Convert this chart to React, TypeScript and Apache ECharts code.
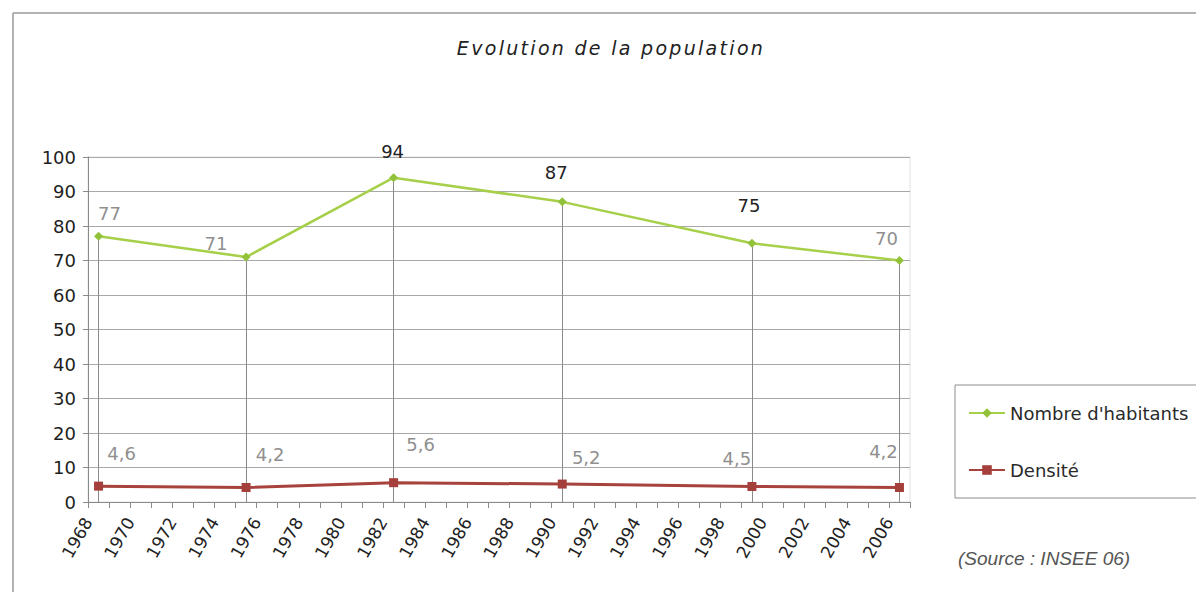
import React, { useEffect, useRef } from "react";
import * as echarts from "echarts";

// Census years and values
const censusYears = [1968, 1975, 1982, 1990, 1999, 2006];
const habitants = [77, 71, 94, 87, 75, 70];
const densite = [4.6, 4.2, 5.6, 5.2, 4.5, 4.2];

// Year labels shown under the time axis (one tick per year, a label every two)
const yearLabels = [
  1968, 1970, 1972, 1974, 1976, 1978, 1980, 1982, 1984, 1986,
  1988, 1990, 1992, 1994, 1996, 1998, 2000, 2002, 2004, 2006,
];

// Hand-placed value labels: offset of the label centre from its point, in px
const habitantsLabelShift: [number, number][] = [
  [11, -23], [-30, -14], [-1, -26], [-6, -29], [-3, -38], [-13, -22],
];
const habitantsLabelInk = ["#8f8f8f", "#8f8f8f", "#222222", "#222222", "#222222", "#8f8f8f"];
const densiteLabelShift: [number, number][] = [
  [23, -33], [24, -33], [27, -38], [24, -27], [-15, -28], [-16, -36],
];

const FONT = "DejaVu Sans";
const GRID_LEFT = 88;
const GRID_TOP = 157;
const GRID_W = 822;
const GRID_H = 345;

const fmtComma = (v: number) => String(v).replace(".", ",");

// The title is set with wide tracking; only the italic DejaVu text is affected
const titleTracking = `
  .evo-chart text[style*="italic"][style*="DejaVu"],
  .evo-chart text[font-style="italic"][font-family*="DejaVu"] {
    letter-spacing: 2.3px;
  }
`;

export default function App() {
  const ref = useRef<HTMLDivElement>(null);

  useEffect(() => {
    if (!ref.current) return;
    const chart = echarts.init(ref.current, undefined, { renderer: "svg" });

    const habitantsData = censusYears.map((yr, i) => ({
      value: [yr, habitants[i]],
      label: {
        offset: habitantsLabelShift[i],
        color: habitantsLabelInk[i],
      },
    }));
    const densiteData = censusYears.map((yr, i) => ({
      value: [yr, densite[i]],
      label: { offset: densiteLabelShift[i] },
    }));

    chart.setOption({
      animation: false,
      backgroundColor: "#ffffff",
      textStyle: { fontFamily: FONT },
      grid: {
        left: GRID_LEFT,
        top: GRID_TOP,
        width: GRID_W,
        height: GRID_H,
        show: true,
        borderColor: "#e2e2e2",
        borderWidth: 1,
      },
      xAxis: [
        {
          type: "value",
          min: 1968,
          max: 2007,
          interval: 1,
          axisLine: { show: true, lineStyle: { color: "#8a8a8a", width: 1 } },
          axisTick: { show: true, length: 6, lineStyle: { color: "#8a8a8a" } },
          splitLine: { show: false },
          axisLabel: {
            rotate: 60,
            margin: 17,
            fontFamily: FONT,
            fontSize: 17,
            color: "#222222",
            showMinLabel: true,
            showMaxLabel: true,
            formatter: (v: number) => (yearLabels.includes(v) ? String(v) : ""),
          },
        },
        {
          // Each census year sits in the middle of its one-year band
          type: "value",
          min: 1967.5,
          max: 2006.5,
          show: false,
        },
      ],
      yAxis: {
        type: "value",
        min: 0,
        max: 100,
        interval: 10,
        axisLine: { show: true, lineStyle: { color: "#8a8a8a", width: 1 } },
        axisTick: { show: true, length: 5, lineStyle: { color: "#8a8a8a" } },
        splitLine: { show: true, lineStyle: { color: "#a8a8a8", width: 1 } },
        axisLabel: {
          margin: 12,
          fontFamily: FONT,
          fontSize: 18,
          color: "#1e1e1e",
        },
      },
      legend: {
        orient: "vertical",
        left: 955,
        top: 385,
        padding: [19, 40, 19, 13],
        itemGap: 39,
        itemWidth: 36,
        itemHeight: 12,
        borderColor: "#8c8c8c",
        borderWidth: 1,
        textStyle: { fontFamily: FONT, fontSize: 18, color: "#2a2a2a" },
        data: ["Nombre d'habitants", "Densité"],
      },
      series: [
        {
          name: "Nombre d'habitants",
          type: "line",
          xAxisIndex: 1,
          data: habitantsData,
          symbol: "diamond",
          symbolSize: 9,
          itemStyle: { color: "#92c23a" },
          lineStyle: { color: "#a6d04a", width: 2.5 },
          z: 4,
          label: {
            show: true,
            position: "inside",
            fontFamily: FONT,
            fontSize: 18,
            formatter: (p: any) => fmtComma(p.value[1]),
          },
          markLine: {
            silent: true,
            symbol: "none",
            label: { show: false },
            lineStyle: { color: "#8a8a8a", width: 1, type: "solid" },
            data: censusYears.map((yr, i) => [
              { coord: [yr, habitants[i]] },
              { coord: [yr, 0] },
            ]),
            z: 1,
          },
        },
        {
          name: "Densité",
          type: "line",
          xAxisIndex: 1,
          data: densiteData,
          symbol: "rect",
          symbolSize: 9,
          itemStyle: { color: "#a53f3b" },
          lineStyle: { color: "#a8423d", width: 3 },
          z: 5,
          label: {
            show: true,
            position: "inside",
            fontFamily: FONT,
            fontSize: 18,
            color: "#8f8f8f",
            formatter: (p: any) => fmtComma(p.value[1]),
          },
        },
      ],
      graphic: [
        {
          type: "line",
          shape: { x1: 13, y1: 13, x2: 1196, y2: 13 },
          style: { stroke: "#9a9a9a", lineWidth: 1.5 },
          silent: true,
        },
        {
          type: "line",
          shape: { x1: 13, y1: 13, x2: 13, y2: 592 },
          style: { stroke: "#9a9a9a", lineWidth: 1.5 },
          silent: true,
        },
        {
          type: "text",
          x: 611,
          y: 48,
          style: {
            text: "Evolution de la population",
            fontFamily: FONT,
            fontStyle: "italic",
            fontSize: 19,
            fill: "#222222",
            textAlign: "center",
            textVerticalAlign: "middle",
          },
          silent: true,
        },
        {
          type: "text",
          x: 958,
          y: 558,
          style: {
            text: "(Source : INSEE 06)",
            fontFamily: "Liberation Sans",
            fontStyle: "italic",
            fontSize: 19,
            fill: "#555555",
            textAlign: "left",
            textVerticalAlign: "middle",
          },
          silent: true,
        },
      ],
    });

    return () => chart.dispose();
  }, []);

  return (
    <>
      <style>{titleTracking}</style>
      <div
        ref={ref}
        className="evo-chart"
        style={{ position: "fixed", left: 0, top: 0, width: 1196, height: 592 }}
      />
    </>
  );
}
